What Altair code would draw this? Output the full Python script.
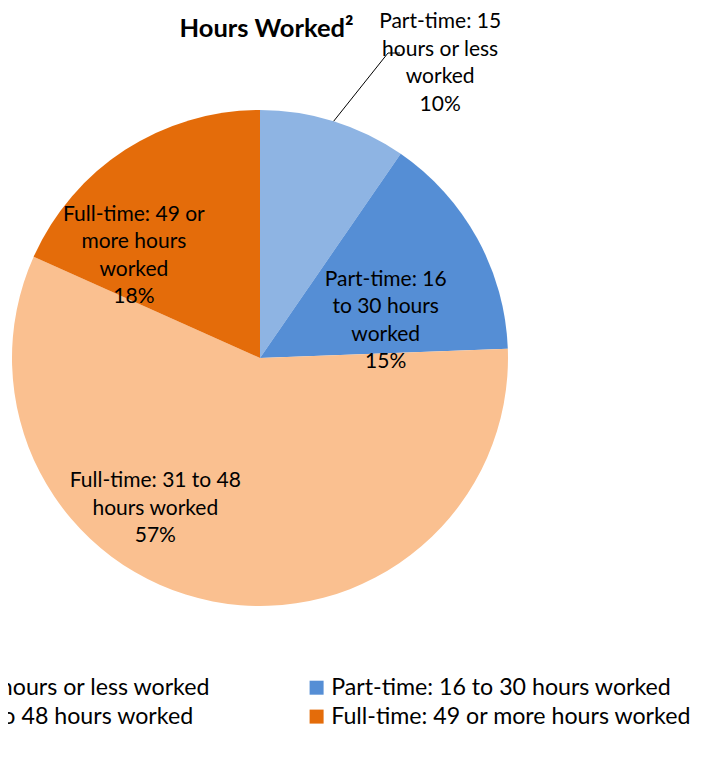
import math
import altair as alt
import pandas as pd

# ---- data ----
categories = [
    "Part-time: 15 hours or less worked",
    "Part-time: 16 to 30 hours worked",
    "Full-time: 31 to 48 hours worked",
    "Full-time: 49 or more hours worked",
]
values = [9.6, 14.8, 57.3, 18.3]
slice_text = [
    "Part-time: 15\nhours or less\nworked",
    "Part-time: 16\nto 30 hours\nworked",
    "Full-time: 31 to 48\nhours worked",
    "Full-time: 49 or\nmore hours\nworked",
]
pct_text = ["10%", "15%", "57%", "18%"]
colors = ["#8EB4E3", "#558ED5", "#FAC090", "#E46C0A"]
title_text = "Hours Worked\u00b2"

FONT = "Lato"
W, H = 685, 741
CX, CY, R = 252, 350, 248
total = sum(values)

df = pd.DataFrame({
    "category": categories,
    "value": values,
    "order": list(range(len(categories))),
    "label": [s + "\n" + p for s, p in zip(slice_text, pct_text)],
})

# legend fills column by column: order the domain so rows read 1,2 / 3,4
legend_order = [0, 2, 1, 3]
dom = [categories[i] for i in legend_order]
rng = [colors[i] for i in legend_order]

color = alt.Color(
    "category:N",
    scale=alt.Scale(domain=dom, range=rng),
    sort=dom,
    legend=alt.Legend(
        orient="none", legendX=-175, legendY=668, columns=2,
        columnPadding=94, rowPadding=5, symbolType="square", symbolSize=196,
        symbolStrokeWidth=0, labelFontSize=23.2, labelFont=FONT, labelColor="#000000",
        labelLimit=600, labelOffset=3, title=None, padding=0,
    ),
)

pie = alt.Chart(df).mark_arc(radius=R, strokeWidth=0).encode(
    theta=alt.Theta("value:Q", stack=True),
    order=alt.Order("order:Q"),
    color=color,
    x=alt.value(CX),
    y=alt.value(CY),
)

theta_scale = alt.Scale(domain=[0, total], range=[0, 2 * math.pi])

# per-label placement (radius, dx, dy) relative to the slice mid-angle
placement = {
    0: (290, 94, -59),
    1: (140, 3, -11),
    2: (140, -78, -14),
    3: (140, -50, -26),
}

labels = []
for idx, (rad, ddx, ddy) in placement.items():
    layer = alt.Chart(df).transform_stack(
        stack="value", groupby=[], as_=["v0", "v1"], sort=[alt.SortField("order")]
    ).transform_calculate(
        mid="(datum.v0 + datum.v1) / 2"
    ).transform_filter(
        alt.datum.order == idx
    ).mark_text(
        radius=rad, dx=ddx, dy=ddy, font=FONT, fontSize=21, lineBreak="\n",
        lineHeight=27.5, align="center", baseline="middle", color="#000000",
    ).encode(
        theta=alt.Theta("mid:Q", scale=theta_scale, stack=None),
        text="label:N",
        x=alt.value(CX),
        y=alt.value(CY),
    )
    labels.append(layer)

# leader line for the small outside label
mid0 = values[0] / 2 / total * 2 * math.pi
sx, sy = CX + R * math.sin(mid0), CY - R * math.cos(mid0)
ex, ey = 380, 45
leader = alt.Chart(pd.DataFrame({"k": [0]})).mark_rule(color="#000000", strokeWidth=1).encode(
    x=alt.value(sx), y=alt.value(sy), x2=alt.value(ex), y2=alt.value(ey)
)
leader2 = alt.Chart(pd.DataFrame({"k": [0]})).mark_rule(color="#000000", strokeWidth=1).encode(
    x=alt.value(ex), y=alt.value(ey), x2=alt.value(ex + 12), y2=alt.value(ey)
)

title = alt.Chart(pd.DataFrame({"t": [title_text]})).mark_text(
    font=FONT, fontSize=25.5, fontWeight="bold", align="center", baseline="alphabetic",
    color="#000000",
).encode(text="t:N", x=alt.value(258.5), y=alt.value(29))

chart = alt.layer(pie, *labels, leader, leader2, title).properties(
    width=W, height=H, autosize=alt.AutoSizeParams(type="none"), padding=0
).configure_view(stroke=None)

chart.save("out.html", embed_options={"renderer": "svg", "actions": False})
